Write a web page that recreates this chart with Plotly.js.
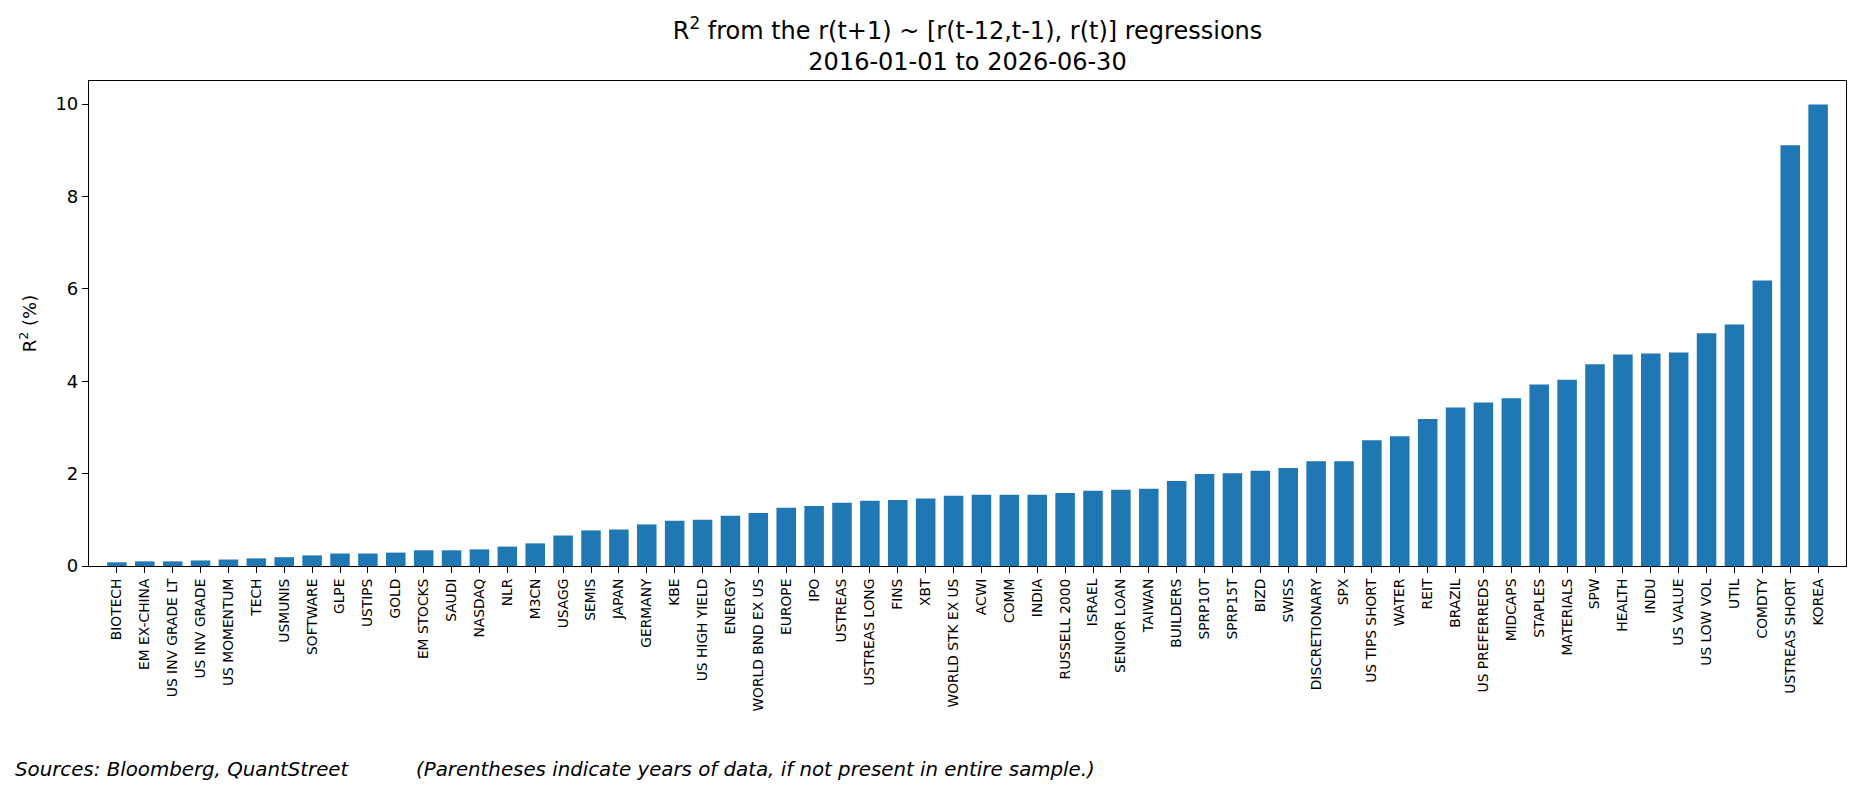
<!DOCTYPE html>
<html>
<head>
<meta charset="utf-8">
<script src="https://cdn.plot.ly/plotly-3.0.1.min.js"></script>
<style>
  html, body { margin: 0; padding: 0; background: #fff; }
  #chart { width: 1860px; height: 795px; }
</style>
</head>
<body>
<div id="chart"></div>
<script>
// Assets, sorted by R^2
const assets = [
    'BIOTECH', 'EM EX-CHINA', 'US INV GRADE LT', 'US INV GRADE', 'US MOMENTUM', 'TECH',
    'USMUNIS', 'SOFTWARE', 'GLPE', 'USTIPS', 'GOLD', 'EM STOCKS', 'SAUDI', 'NASDAQ',
    'NLR', 'M3CN', 'USAGG', 'SEMIS', 'JAPAN', 'GERMANY', 'KBE', 'US HIGH YIELD',
    'ENERGY', 'WORLD BND EX US', 'EUROPE', 'IPO', 'USTREAS', 'USTREAS LONG', 'FINS',
    'XBT', 'WORLD STK EX US', 'ACWI', 'COMM', 'INDIA', 'RUSSELL 2000', 'ISRAEL',
    'SENIOR LOAN', 'TAIWAN', 'BUILDERS', 'SPRP10T', 'SPRP15T', 'BIZD', 'SWISS',
    'DISCRETIONARY', 'SPX', 'US TIPS SHORT', 'WATER', 'REIT', 'BRAZIL',
    'US PREFERREDS', 'MIDCAPS', 'STAPLES', 'MATERIALS', 'SPW', 'HEALTH', 'INDU',
    'US VALUE', 'US LOW VOL', 'UTIL', 'COMDTY', 'USTREAS SHORT', 'KOREA'
];

// R^2 in percent
const rsq = [
    0.08, 0.10, 0.10, 0.12, 0.14, 0.165,
    0.19, 0.23, 0.27, 0.27, 0.29, 0.34, 0.34, 0.36,
    0.42, 0.49, 0.66, 0.77, 0.79, 0.90, 0.98, 1.00,
    1.09, 1.15, 1.26, 1.30, 1.37, 1.41, 1.43,
    1.46, 1.52, 1.54, 1.54, 1.54, 1.58, 1.63,
    1.65, 1.67, 1.84, 1.99, 2.01, 2.06, 2.12,
    2.27, 2.27, 2.72, 2.81, 3.18, 3.43,
    3.54, 3.63, 3.93, 4.03, 4.37, 4.58, 4.60,
    4.62, 5.04, 5.23, 6.18, 9.11, 9.99
];

const yTicks = [0, 2, 4, 6, 8, 10];

const FONT = '"DejaVu Sans", sans-serif';
const W = 1860, H = 795;
const margin = { l: 89, r: 14, t: 81, b: 229 };
const plotW = W - margin.l - margin.r;
const plotH = H - margin.t - margin.b;

// pixel -> paper helpers for the footer notes
const px = x => (x - margin.l) / plotW;
const py = y => (H - margin.b - y) / plotH;

const trace = {
    type: 'bar',
    x: assets,
    y: rsq,
    marker: { color: '#1f77b4', line: { width: 0 } },
    hoverinfo: 'x+y'
};

const axisLine = {
    showline: true,
    linecolor: '#000',
    linewidth: 1.2,
    mirror: true,
    ticks: 'outside',
    ticklen: 6,
    tickwidth: 1.2,
    tickcolor: '#000',
    showgrid: false,
    zeroline: false
};

const layout = {
    width: W,
    height: H,
    margin: margin,
    paper_bgcolor: '#fff',
    plot_bgcolor: '#fff',
    font: { family: FONT, color: '#000', size: 18 },
    bargap: 0.3,
    showlegend: false,
    title: {
        text: 'R<sup>2</sup> from the r(t+1) ~ [r(t-12,t-1), r(t)] regressions<br>2016-01-01 to 2026-06-30',
        font: { family: FONT, size: 24, color: '#000' },
        x: 0.5,
        xref: 'paper',
        xanchor: 'center',
        y: 1 - 39 / H,
        yref: 'container',
        yanchor: 'top'
    },
    xaxis: {
        ...axisLine,
        type: 'category',
        range: [-1, assets.length],
        tickangle: -90,
        tickfont: { family: FONT, size: 13.8, color: '#000' }
    },
    yaxis: {
        ...axisLine,
        range: [0, 10.5],
        tickvals: yTicks,
        ticktext: yTicks.map(String),
        tickfont: { family: FONT, size: 18, color: '#000' },
        title: {
            text: 'R<sup>2</sup> (%)',
            font: { family: FONT, size: 18, color: '#000' },
            standoff: 14
        }
    },
    annotations: [
        {
            text: '<i>Sources: Bloomberg, QuantStreet</i>',
            xref: 'paper', yref: 'paper',
            x: px(13), y: py(769),
            xanchor: 'left', yanchor: 'middle',
            showarrow: false,
            font: { family: FONT, size: 19.8, color: '#000' }
        },
        {
            text: '<i>(Parentheses indicate years of data, if not present in entire sample.)</i>',
            xref: 'paper', yref: 'paper',
            x: px(414), y: py(769),
            xanchor: 'left', yanchor: 'middle',
            showarrow: false,
            font: { family: FONT, size: 19.8, color: '#000' }
        }
    ]
};

Plotly.newPlot('chart', [trace], layout, { displayModeBar: false, responsive: false });
</script>
</body>
</html>
